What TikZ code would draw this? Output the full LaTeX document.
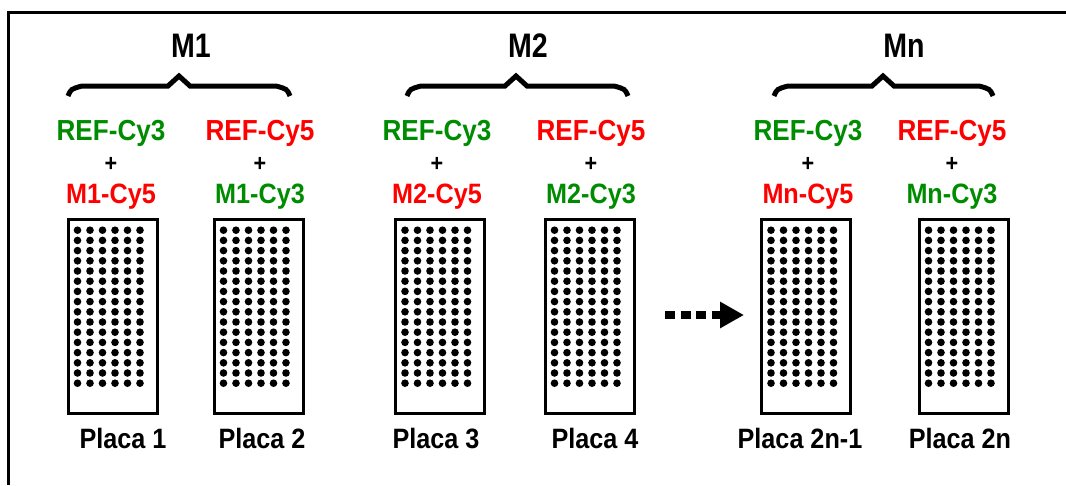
\documentclass[tikz,border=0pt]{standalone}
\usepackage{fontspec}
\newfontfamily\lab{Liberation Sans}[FakeStretch=0.9]
\newfontfamily\mlab{Liberation Sans}[FakeStretch=0.84]
\usetikzlibrary{arrows.meta}
\definecolor{cgreen}{RGB}{0,140,0}
\definecolor{cred}{RGB}{255,0,0}
\begin{document}
\begin{tikzpicture}[x=1pt,y=-1pt,
  mlabel/.style={font=\mlab\bfseries\fontsize{34}{34}\selectfont, inner sep=0pt, anchor=base},
  reflabel/.style={font=\lab\bfseries\fontsize{29}{29}\selectfont, inner sep=0pt, anchor=base},
  samplabel/.style={font=\lab\bfseries\fontsize{28}{28}\selectfont, inner sep=0pt, anchor=base},
  pluslabel/.style={font=\lab\bfseries\fontsize{24}{24}\selectfont, inner sep=0pt, anchor=base},
  placalabel/.style={font=\lab\bfseries\fontsize{28}{28}\selectfont, inner sep=0pt, anchor=base},
  plate/.style={draw, line width=3pt, minimum width=89pt, minimum height=194pt, inner sep=0pt},
  bracepath/.style={line width=5pt, line join=miter},
  dotarrow/.style={line width=8pt, dash pattern=on 10pt off 5.5pt, -{Triangle[length=24pt,width=25pt]}},
  spot/.style={fill=black}
]
\useasboundingbox (0,0) rectangle (1066,485);
% frame
\draw[line width=3pt] (8,485) -- (8,12) -- (1066,12);
% group labels
\node[mlabel] (m1) at (191,57) {M1};
\node[mlabel] (m2) at (528,57) {M2};
\node[mlabel] (mn) at (904,57) {Mn};
% braces
\foreach \l/\t/\r in {68/179/290, 407/516/628, 774/883/993}{
  \draw[bracepath] (\l,96) .. controls (\l+3,89) .. (\l+14,86) -- (\t-11,86) -- (\t,76) -- (\t+11,86) -- (\r-14,86) .. controls (\r-3,89) .. (\r,96);
}
% text columns
\foreach \n/\x/\ta/\ca/\tb/\cb in {1/111/REF-Cy3/cgreen/M1-Cy5/cred,
                                  2/260/REF-Cy5/cred/M1-Cy3/cgreen,
                                  3/437/REF-Cy3/cgreen/M2-Cy5/cred,
                                  4/591/REF-Cy5/cred/M2-Cy3/cgreen,
                                  5/808/REF-Cy3/cgreen/Mn-Cy5/cred,
                                  6/952/REF-Cy5/cred/Mn-Cy3/cgreen}{
  \node[reflabel, text=\ca] (ref\n) at (\x,140) {\ta};
  \node[pluslabel] (plus\n) at (\x,171) {+};
  \node[samplabel, text=\cb] (s\n) at (\x,203) {\tb};
}
% plates
\foreach \n/\x/\lx/\lt in {1/112.5/123/Placa 1, 2/258.5/262/Placa 2, 3/440/436/Placa 3,
                          4/589.5/595/Placa 4, 5/806/800/Placa 2n-1, 6/963.5/960/Placa 2n}{
  \node[plate] (p\n) at (\x,316) {};
  \begin{scope}[shift={(p\n.north west)}]
    \foreach \i in {0,...,5}{
      \foreach \j in {0,...,15}{
        \fill[spot] (11+12.5*\i, 12.7+10.2*\j) circle (3.8pt);
      }
    }
  \end{scope}
  \node[placalabel] (pl\n) at (\lx,448) {\lt};
}
% dotted arrow
\coordinate (a0) at (665,315);
\coordinate (a1) at (744,315);
\draw[dotarrow] (a0) -- (a1);
\end{tikzpicture}
\end{document}
